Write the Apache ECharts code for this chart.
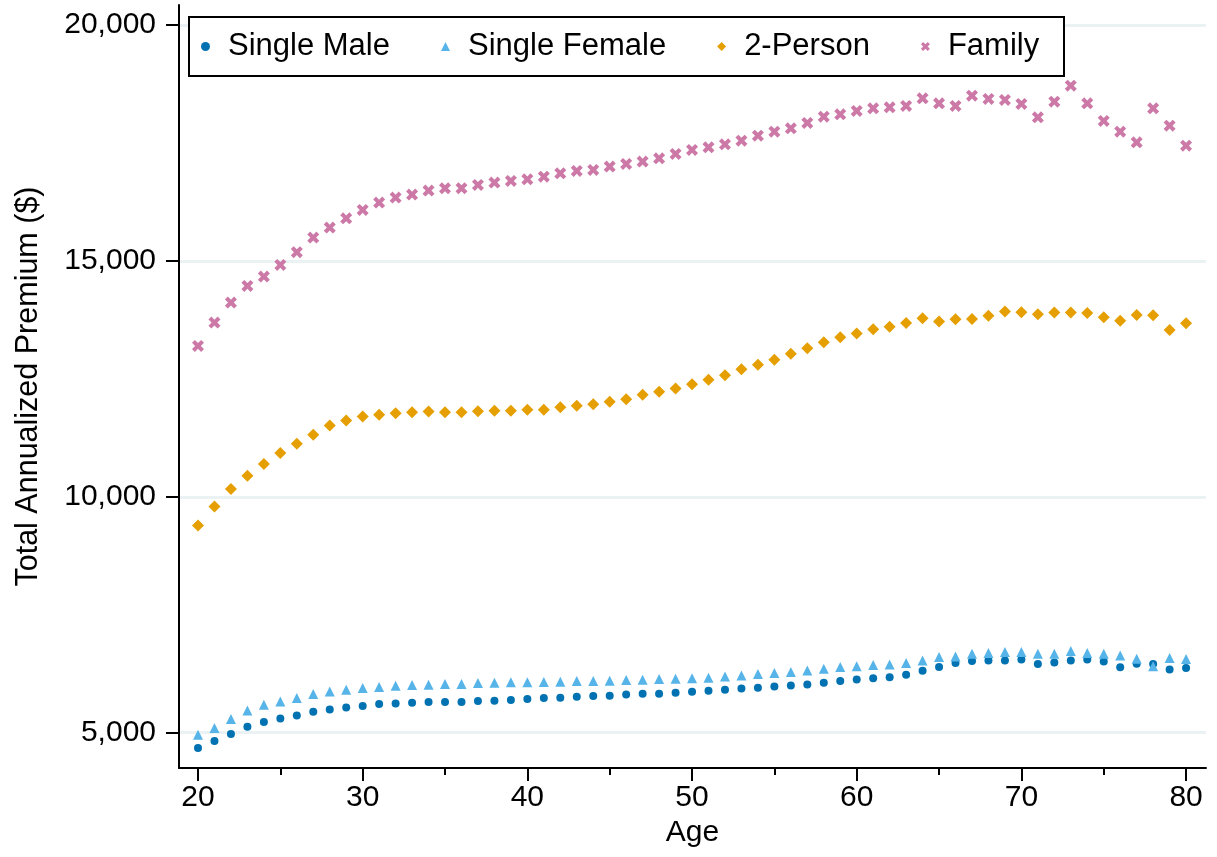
<!DOCTYPE html>
<html>
<head>
<meta charset="utf-8">
<title>Total Annualized Premium by Age</title>
<script src="https://cdn.jsdelivr.net/npm/echarts@6/dist/echarts.min.js"></script>
<style>
  html, body { margin: 0; padding: 0; background: #fff; }
  #chart-container { width: 1217px; height: 857px; }
</style>
</head>
<body>
<div id="chart-container"></div>
<script>
// Age on the x axis, one point per age and household type
const ages = [20, 21, 22, 23, 24, 25, 26, 27, 28, 29, 30, 31, 32, 33, 34, 35, 36, 37, 38, 39, 40,
  41, 42, 43, 44, 45, 46, 47, 48, 49, 50, 51, 52, 53, 54, 55, 56, 57, 58, 59, 60,
  61, 62, 63, 64, 65, 66, 67, 68, 69, 70, 71, 72, 73, 74, 75, 76, 77, 78, 79, 80];

// Total annualized premium ($)
const singleMale = [4676, 4824, 4972, 5127, 5227, 5303, 5367, 5445, 5494, 5536, 5566,
  5608, 5621, 5633, 5650, 5650, 5650, 5671, 5678, 5692, 5714,
  5735, 5742, 5763, 5777, 5784, 5812, 5826, 5826, 5848, 5869,
  5890, 5911, 5939, 5954, 5982, 6003, 6024, 6060, 6095, 6130,
  6152, 6173, 6229, 6314, 6392, 6476, 6519, 6532, 6532, 6553,
  6455, 6490, 6532, 6553, 6511, 6385, 6462, 6455, 6342, 6371];

const singleFemale = [4958, 5099, 5290, 5473, 5593, 5664, 5735, 5820, 5876, 5911, 5947,
  5968, 5996, 6010, 6017, 6032, 6032, 6053, 6060, 6067, 6067,
  6074, 6081, 6095, 6095, 6102, 6116, 6123, 6138, 6145, 6152,
  6165, 6194, 6215, 6243, 6265, 6286, 6318, 6356, 6392, 6406,
  6434, 6448, 6476, 6532, 6603, 6617, 6674, 6688, 6709, 6709,
  6674, 6674, 6730, 6688, 6674, 6638, 6568, 6406, 6582, 6561];

const twoPerson = [9393, 9795, 10163, 10445, 10693, 10926, 11123, 11314, 11511, 11617, 11702,
  11737, 11773, 11794, 11808, 11794, 11794, 11815, 11822, 11822, 11843,
  11843, 11900, 11928, 11964, 12013, 12070, 12161, 12225, 12295, 12387,
  12479, 12578, 12705, 12797, 12903, 13030, 13150, 13277, 13383, 13460,
  13552, 13602, 13686, 13786, 13714, 13764, 13771, 13835, 13926, 13912,
  13871, 13905, 13905, 13898, 13807, 13729, 13856, 13850, 13538, 13680];

const family = [13199, 13693, 14117, 14470, 14668, 14915, 15184, 15494, 15706, 15904, 16081,
  16236, 16342, 16405, 16490, 16540, 16540, 16610, 16660, 16695, 16730,
  16786, 16857, 16907, 16928, 16999, 17055, 17105, 17175, 17267, 17352,
  17408, 17472, 17549, 17655, 17740, 17811, 17925, 18058, 18108, 18178,
  18234, 18256, 18284, 18446, 18340, 18284, 18503, 18432, 18411, 18326,
  18044, 18376, 18715, 18340, 17966, 17740, 17514, 18234, 17867, 17443];

const seriesNames = ['Single Male', 'Single Female', '2-Person', 'Family'];

// tick positions
const xMajorTicks = [20, 30, 40, 50, 60, 70, 80];
const xMinorTicks = [25, 35, 45, 55, 65, 75];
const yTicks = [5000, 10000, 15000, 20000];

(function () {
  const chartDom = document.getElementById('chart-container');
  const myChart = echarts.init(chartDom, null, { renderer: 'canvas' });

  const FONT = "'Liberation Sans', Arial, sans-serif";
  // thick "x" marker like Stata's
  const crossPath = 'path://M0,2.4 L2.4,0 L5,2.6 L7.6,0 L10,2.4 L7.4,5 L10,7.6 L7.6,10 L5,7.4 L2.4,10 L0,7.6 L2.6,5 Z';

  /** pairs each age with its value */
  function toPoints(values) {
    return ages.map(function (age, i) { return [age, values[i]]; });
  }

  function scatterSeries(name, values, symbol, size, color) {
    return {
      name: name,
      type: 'scatter',
      xAxisIndex: 0,
      yAxisIndex: 0,
      symbol: symbol,
      symbolSize: size,
      itemStyle: { color: color, opacity: 1 },
      emphasis: { disabled: true },
      data: toPoints(values)
    };
  }

  const option = {
    animation: false,
    textStyle: { fontFamily: FONT },
    grid: { left: 179, right: 11, top: 5, bottom: 89, containLabel: false },
    // legend box border drawn separately so the items can sit tight against it
    graphic: [{
      type: 'rect',
      z: 1,
      shape: { x: 189, y: 17, width: 875, height: 59 },
      style: { fill: '#fff', stroke: '#000', lineWidth: 2 }
    }],
    legend: {
      left: 201,
      top: 31,
      padding: 0,
      itemWidth: 9,
      itemHeight: 9,
      itemGap: 51,
      textStyle: { fontSize: 31, color: '#000', fontFamily: FONT, padding: [0, 0, 0, 13] },
      data: [
        { name: seriesNames[0], icon: 'circle' },
        { name: seriesNames[1], icon: 'triangle' },
        { name: seriesNames[2], icon: 'diamond' },
        { name: seriesNames[3], icon: crossPath }
      ]
    },
    xAxis: [{
      type: 'value',
      min: 18.846,
      max: 81.21,
      name: 'Age',
      nameLocation: 'middle',
      nameGap: 50,
      nameTextStyle: { fontSize: 30, color: '#000', fontFamily: FONT },
      axisLine: { show: true, lineStyle: { color: '#000', width: 2 } },
      axisTick: { show: true, length: 13, lineStyle: { color: '#000', width: 2 }, customValues: xMajorTicks },
      axisLabel: { fontSize: 30, color: '#000', margin: 15, customValues: xMajorTicks },
      splitLine: { show: false }
    }, {
      // minor ticks only
      type: 'value',
      position: 'bottom',
      min: 18.846,
      max: 81.21,
      axisLine: { show: false },
      axisTick: { show: true, length: 7, lineStyle: { color: '#000', width: 2 }, customValues: xMinorTicks },
      axisLabel: { show: false },
      splitLine: { show: false }
    }],
    yAxis: {
      type: 'value',
      min: 4252,
      max: 20424,
      name: 'Total Annualized Premium ($)',
      nameLocation: 'middle',
      nameRotate: 90,
      nameGap: 135,
      nameTextStyle: { fontSize: 30.5, color: '#000', fontFamily: FONT },
      axisLine: { show: true, lineStyle: { color: '#000', width: 2 } },
      axisTick: { show: true, length: 13, lineStyle: { color: '#000', width: 2 }, customValues: yTicks },
      axisLabel: {
        fontSize: 30,
        color: '#000',
        margin: 23,
        customValues: yTicks,
        formatter: function (v) { return Number(v).toLocaleString('en-US'); }
      },
      splitLine: { show: true, lineStyle: { color: '#eaf2f3', width: 3 } }
    },
    series: [
      scatterSeries(seriesNames[0], singleMale, 'circle', 8, '#0072B2'),
      scatterSeries(seriesNames[1], singleFemale, 'triangle', 10, '#56B4E9'),
      scatterSeries(seriesNames[2], twoPerson, 'diamond', 12, '#E69F00'),
      scatterSeries(seriesNames[3], family, crossPath, 12, '#CC79A7')
    ]
  };

  myChart.setOption(option);
}());
</script>
</body>
</html>
